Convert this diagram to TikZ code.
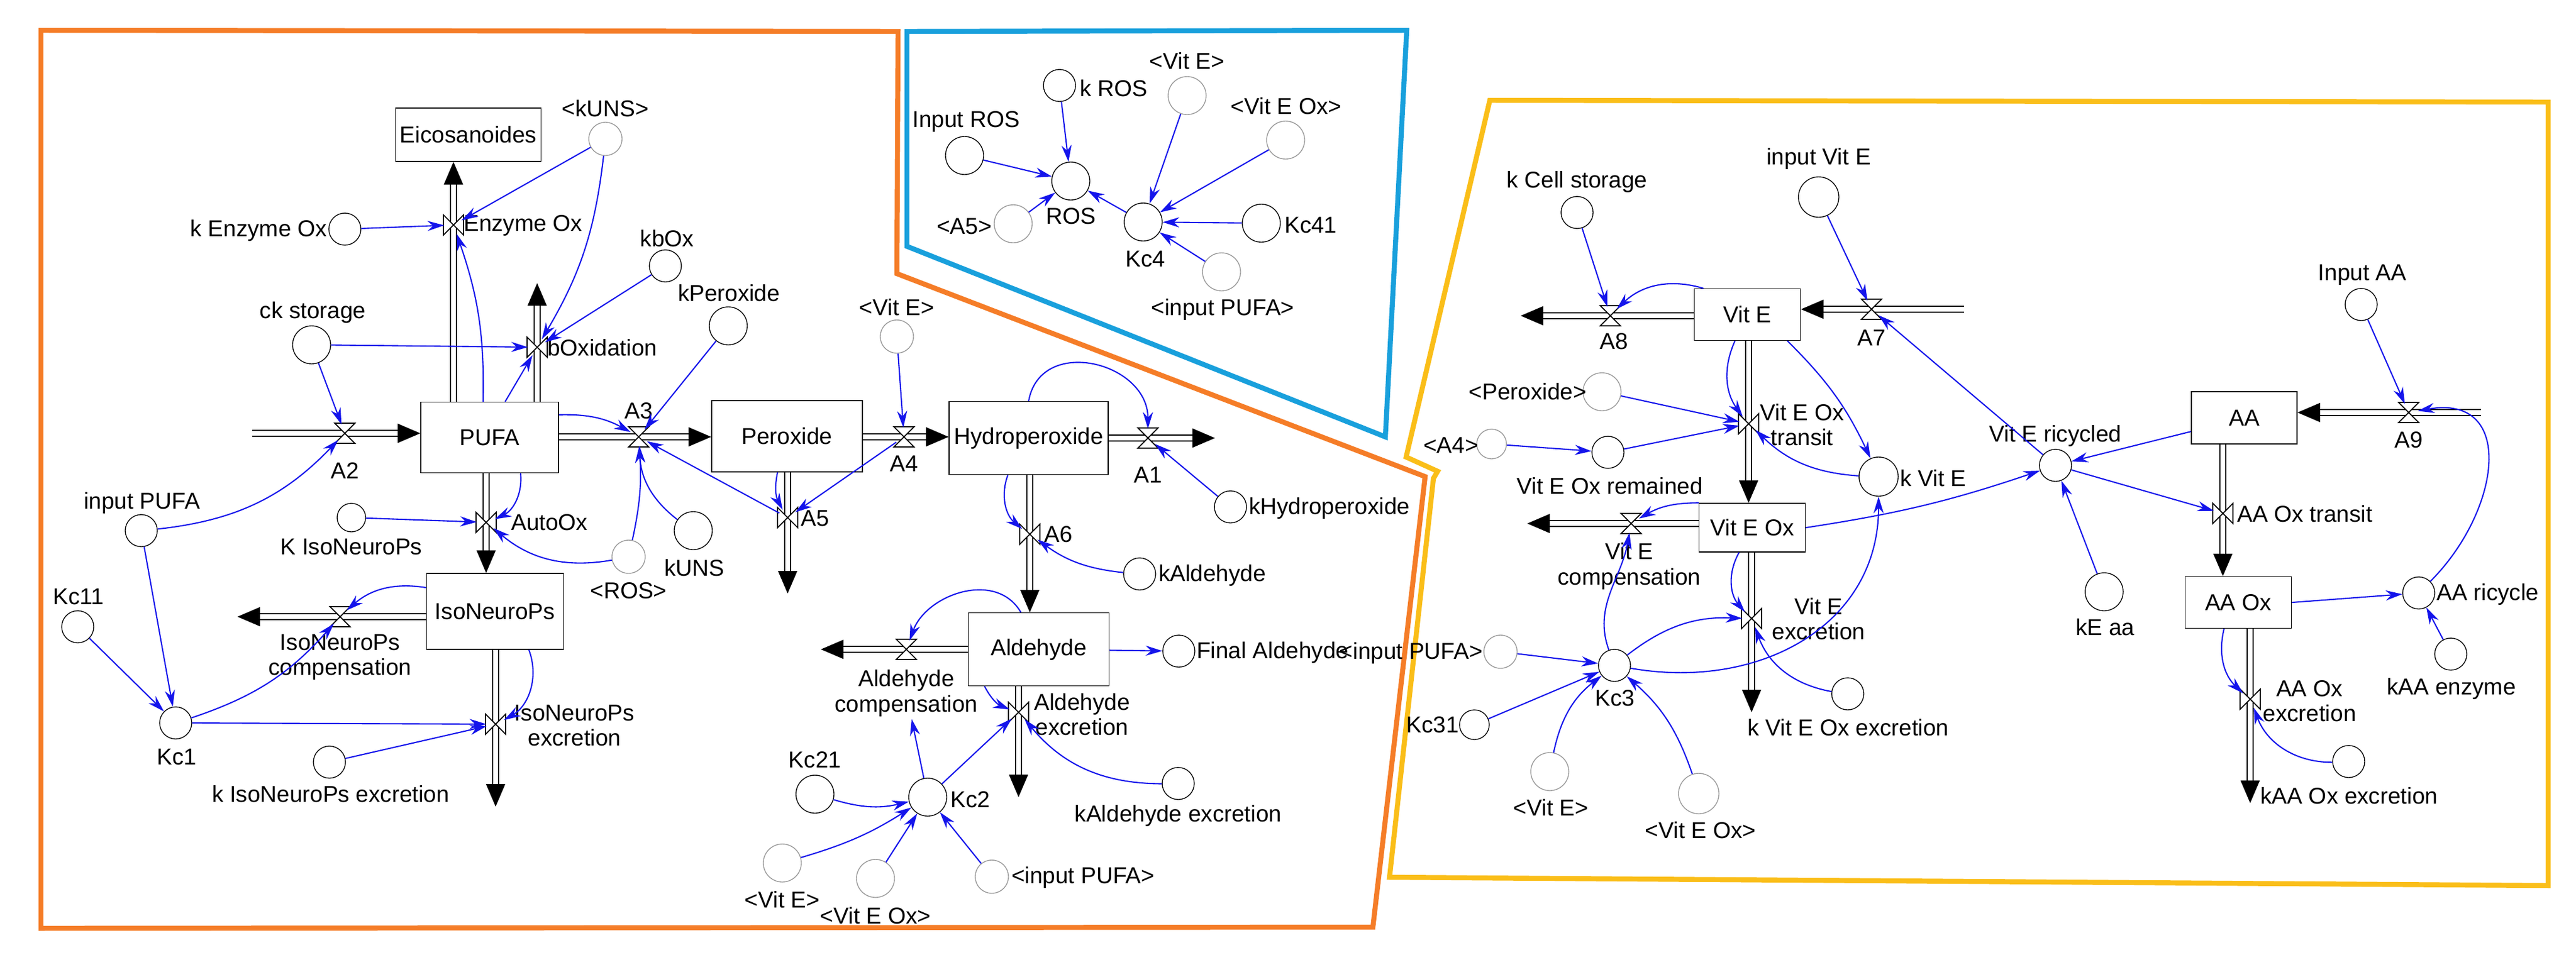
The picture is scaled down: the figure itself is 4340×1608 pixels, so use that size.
\documentclass[tikz,border=0pt]{standalone}
\usepackage{fontspec}
\setmainfont{Liberation Sans}
\usetikzlibrary{arrows.meta}
\definecolor{bord1}{RGB}{245,125,40}
\definecolor{bord2}{RGB}{25,160,220}
\definecolor{bord3}{RGB}{250,190,25}
\definecolor{conn}{RGB}{20,20,235}
\begin{document}
\begin{tikzpicture}[x=0.01cm,y=-0.01cm,
  every node/.style={font=\fontsize{11}{12}\selectfont},
  lab/.style={inner sep=1pt},
  aux/.style={circle,draw,minimum size=0.54cm,inner sep=0pt},
  auxl/.style={circle,draw,minimum size=0.64cm,inner sep=0pt},
  sh/.style={circle,draw=black!40,minimum size=0.56cm,inner sep=0pt},
  stock/.style={draw,rectangle,inner sep=0pt},
  valve/.style={circle,minimum size=0.3cm,inner sep=0pt},
  pipe/.style={double,double distance=2.2pt,line width=0.6pt,-{Triangle[length=0.38cm,width=0.32cm]}},
  cn/.style={conn,line width=0.6pt,-{Stealth[length=0.28cm,width=0.17cm]}},
  vh/.pic={\draw[fill=white,line width=0.5pt] (-17,-17)--(17,-17)--(-17,17)--(17,17)--cycle;},
  vv/.pic={\draw[fill=white,line width=0.5pt] (-17,-17)--(-17,17)--(17,-17)--(17,17)--cycle;},
  bord/.style={line width=2.4pt}]
\useasboundingbox (0,0) rectangle (4340,1608);
% borders
\draw[bord,bord1] (69,51) -- (1513,53) -- (1511,461) -- (2401,803) -- (2313,1562) -- (69,1564) -- cycle;
\draw[bord,bord2] (1528,53) -- (2370,51) -- (2334,736) -- (1528,415) -- cycle;
\draw[bord,bord3] (2510,169) -- (4293,172) -- (4293,1492) -- (2341,1478) -- (2415,806) -- (2422,794) -- (2369,770) -- cycle;

% ===== stocks =====
\node[stock,minimum width=2.45cm,minimum height=0.9cm] (Eic) at (789,227) {Eicosanoides};
\node[stock,minimum width=2.32cm,minimum height=1.19cm] (PUFA) at (825,737) {PUFA};
\node[stock,minimum width=2.54cm,minimum height=1.2cm] (Per) at (1326,735) {Peroxide};
\node[stock,minimum width=2.31cm,minimum height=1.28cm] (Iso) at (834,1030) {IsoNeuroPs};
\node[stock,minimum width=2.68cm,minimum height=1.23cm] (Hyd) at (1733,738) {Hydroperoxide};
\node[stock,minimum width=2.37cm,minimum height=1.23cm] (Ald) at (1750,1094) {Aldehyde};
\node[stock,minimum width=1.79cm,minimum height=0.87cm] (VitE) at (2944,530) {Vit E};
\node[stock,minimum width=1.79cm,minimum height=0.82cm] (VitEOx) at (2952,889) {Vit E Ox};
\node[stock,minimum width=1.78cm,minimum height=0.88cm] (AA) at (3781,704) {AA};
\node[stock,minimum width=1.79cm,minimum height=0.87cm] (AAOx) at (3771,1015) {AA Ox};

% ===== valves =====
\node[valve] (EnzOx) at (764,379) {};
\node[valve] (bOx) at (905,585) {};
\node[valve] (A2) at (581,730) {};
\node[valve] (A3) at (1076,736) {};
\node[valve] (AutoOx) at (819,880) {};
\node[valve] (IsoC) at (573,1039) {};
\node[valve] (IsoE) at (835,1220) {};
\node[valve] (A5) at (1327,872) {};
\node[valve] (A4) at (1523,736) {};
\node[valve] (A1) at (1934,738) {};
\node[valve] (A6) at (1735,900) {};
\node[valve] (AldC) at (1527,1094) {};
\node[valve] (AldE) at (1716,1200) {};
\node[valve] (A8) at (2713,532) {};
\node[valve] (A7) at (3153,521) {};
\node[valve] (VT) at (2946,714) {};
\node[valve] (VC) at (2748,882) {};
\node[valve] (VX) at (2951,1042) {};
\node[valve] (A9) at (4058,695) {};
\node[valve] (AT) at (3745,865) {};
\node[valve] (AX) at (3791,1178) {};

\coordinate (s1) at (425,730);
\coordinate (t1) at (905,477);
\coordinate (t2) at (400,1039);
\coordinate (t3) at (835,1359);
\coordinate (t4) at (1327,1000);
\coordinate (t5) at (2047,738);
\coordinate (t6) at (1383,1094);
\coordinate (t7) at (1716,1343);
\coordinate (t8) at (2562,532);
\coordinate (s2) at (3309,521);
\coordinate (t9) at (2573,882);
\coordinate (t10) at (2951,1200);
\coordinate (s3) at (4180,695);
\coordinate (t11) at (3791,1353);

% ===== pipes =====
\draw[pipe] (s1) -- (PUFA.west |- s1);
\draw[pipe] (PUFA.north -| EnzOx) -- (Eic.south -| EnzOx);
\draw[pipe] (PUFA.north -| bOx) -- (t1);
\draw[pipe] (PUFA.east |- A3) -- (Per.west |- A3);
\draw[pipe] (PUFA.south -| AutoOx) -- (Iso.north -| AutoOx);
\draw[pipe] (Iso.west |- IsoC) -- (t2);
\draw[pipe] (Iso.south -| IsoE) -- (t3);
\draw[pipe] (Per.south -| A5) -- (t4);
\draw[pipe] (Per.east |- A4) -- (Hyd.west |- A4);
\draw[pipe] (Hyd.east |- A1) -- (t5);
\draw[pipe] (Hyd.south -| A6) -- (Ald.north -| A6);
\draw[pipe] (Ald.west |- AldC) -- (t6);
\draw[pipe] (Ald.south -| AldE) -- (t7);
\draw[pipe] (VitE.west |- A8) -- (t8);
\draw[pipe] (s2) -- (VitE.east |- s2);
\draw[pipe] (VitE.south -| VT) -- (VitEOx.north -| VT);
\draw[pipe] (VitEOx.west |- VC) -- (t9);
\draw[pipe] (VitEOx.south -| VX) -- (t10);
\draw[pipe] (s3) -- (AA.east |- s3);
\draw[pipe] (AA.south -| AT) -- (AAOx.north -| AT);
\draw[pipe] (AAOx.south -| AX) -- (t11);

\pic at (EnzOx) {vv}; \pic at (bOx) {vv}; \pic at (A2) {vh}; \pic at (A3) {vh};
\pic at (AutoOx) {vv}; \pic at (IsoC) {vh}; \pic at (IsoE) {vv}; \pic at (A5) {vv};
\pic at (A4) {vh}; \pic at (A1) {vh}; \pic at (A6) {vv}; \pic at (AldC) {vh};
\pic at (AldE) {vv}; \pic at (A8) {vh}; \pic at (A7) {vh}; \pic at (VT) {vv};
\pic at (VC) {vh}; \pic at (VX) {vv}; \pic at (A9) {vh}; \pic at (AT) {vv}; \pic at (AX) {vv};

% ===== auxiliaries =====
\node[sh] (kUNSs) at (1020,234) {};
\node[aux] (kEnz) at (581,386) {};
\node[aux] (kbOx) at (1121,448) {};
\node[auxl] (kPer) at (1227,549) {};
\node[auxl] (ckst) at (525,581) {};
\node[aux] (inPUFA) at (238,894) {};
\node[aux,minimum size=0.48cm] (kIso) at (592,872) {};
\node[sh] (ROSs) at (1059,938) {};
\node[auxl] (kUNS) at (1168,894) {};
\node[aux] (Kc11) at (131,1056) {};
\node[aux] (Kc1) at (296,1218) {};
\node[aux] (kIsoE) at (555,1284) {};
\node[aux] (kROS) at (1785,144) {};
\node[sh,minimum size=0.64cm] (VitEs1) at (2000,161) {};
\node[auxl] (inROS) at (1625,262) {};
\node[sh,minimum size=0.64cm] (VitEOxs1) at (2166,236) {};
\node[auxl] (ROS) at (1804,305) {};
\node[sh,minimum size=0.64cm] (A5s) at (1707,377) {};
\node[auxl] (Kc4) at (1926,374) {};
\node[auxl] (Kc41) at (2125,376) {};
\node[sh,minimum size=0.64cm] (inPUFAs1) at (2058,458) {};
\node[sh] (VitEs2) at (1511,567) {};
\node[aux] (kHyd) at (2073,854) {};
\node[aux] (kAld) at (1920,967) {};
\node[aux] (FinAld) at (1986,1097) {};
\node[aux] (kAldE) at (1985,1320) {};
\node[auxl] (Kc21) at (1373,1338) {};
\node[auxl] (Kc2) at (1563,1343) {};
\node[sh,minimum size=0.64cm] (VitEs3) at (1318,1454) {};
\node[sh,minimum size=0.64cm] (VitEOxs3) at (1475,1480) {};
\node[sh] (inPUFAs3) at (1671,1477) {};
\node[aux] (kCell) at (2657,358) {};
\node[auxl,minimum size=0.68cm] (inVitE) at (3064,332) {};
\node[sh,minimum size=0.64cm] (Pers) at (2699,660) {};
\node[sh,minimum size=0.5cm] (A4s) at (2513,748) {};
\node[aux] (VEOR) at (2709,762) {};
\node[auxl,minimum size=0.66cm] (kVitE) at (3165,803) {};
\node[aux] (kVEOE) at (3113,1169) {};
\node[sh] (inPUFAs2) at (2528,1098) {};
\node[aux] (Kc3) at (2720,1121) {};
\node[aux,minimum size=0.5cm] (Kc31) at (2484,1221) {};
\node[sh,minimum size=0.64cm] (VitEs4) at (2611,1300) {};
\node[sh,minimum size=0.68cm] (VitEOxs4) at (2862,1337) {};
\node[aux] (VER) at (3463,784) {};
\node[aux] (inAA) at (3978,513) {};
\node[auxl] (kEaa) at (3545,997) {};
\node[aux] (AAr) at (4075,999) {};
\node[aux] (kAAe) at (4129,1102) {};
\node[aux] (kAAOE) at (3957,1283) {};

% ===== labels =====
\node[lab] (L1) at (1020,183) {<kUNS>};
\node[lab,anchor=east] (L2) at (555,388) {k Enzyme Ox};
\node[lab,anchor=west] (L3) at (777,380) {Enzyme Ox};
\node[lab] (L4) at (1124,402) {kbOx};
\node[lab,anchor=west] (L5) at (918,586) {bOxidation};
\node[lab] (L6) at (1228,494) {kPeroxide};
\node[lab] (L7) at (527,526) {ck storage};
\node[lab] (L8) at (581,793) {A2};
\node[lab] (L9) at (1076,692) {A3};
\node[lab] (L10) at (239,847) {input PUFA};
\node[lab] (L11) at (592,921) {K IsoNeuroPs};
\node[lab,anchor=west] (L12) at (857,880) {AutoOx};
\node[lab] (L13) at (1059,995) {<ROS>};
\node[lab] (L14) at (1170,957) {kUNS};
\node[lab,align=center] (L15) at (573,1107) {IsoNeuroPs\\compensation};
\node[lab] (L16) at (132,1005) {Kc11};
\node[lab] (L17) at (298,1275) {Kc1};
\node[lab,align=center] (L18) at (968,1222) {IsoNeuroPs\\excretion};
\node[lab] (L19) at (557,1338) {k IsoNeuroPs excretion};
\node[lab,anchor=west] (L20) at (1345,873) {A5};
\node[lab,anchor=west] (L21) at (1815,149) {k ROS};
\node[lab] (L22) at (2000,103) {<Vit E>};
\node[lab] (L23) at (1628,205) {Input ROS};
\node[lab] (L24) at (2167,179) {<Vit E Ox>};
\node[lab] (L25) at (1804,364) {ROS};
\node[lab,anchor=east] (L26) at (1675,381) {<A5>};
\node[lab] (L27) at (1930,436) {Kc4};
\node[lab,anchor=west] (L28) at (2160,379) {Kc41};
\node[lab] (L29) at (2060,521) {<input PUFA>};
\node[lab] (L30) at (1511,518) {<Vit E>};
\node[lab] (L31) at (1523,781) {A4};
\node[lab] (L32) at (1934,800) {A1};
\node[lab,anchor=west] (L33) at (2100,856) {kHydroperoxide};
\node[lab,anchor=west] (L34) at (1755,900) {A6};
\node[lab,anchor=west] (L35) at (1948,969) {kAldehyde};
\node[lab,align=center] (L36) at (1527,1168) {Aldehyde\\compensation};
\node[lab,anchor=west] (L37) at (2012,1099) {Final Aldehyde};
\node[lab,align=center] (L38) at (1823,1204) {Aldehyde\\excretion};
\node[lab] (L39) at (1985,1374) {kAldehyde excretion};
\node[lab] (L40) at (1373,1280) {Kc21};
\node[lab,anchor=west] (L41) at (1597,1347) {Kc2};
\node[lab] (L42) at (1318,1516) {<Vit E>};
\node[lab] (L43) at (1475,1543) {<Vit E Ox>};
\node[lab,anchor=west] (L44) at (1700,1478) {<input PUFA>};
\node[lab] (L45) at (2657,306) {k Cell storage};
\node[lab] (L46) at (3064,267) {input Vit E};
\node[lab] (L47) at (2719,575) {A8};
\node[lab] (L48) at (3153,569) {A7};
\node[lab,anchor=east] (L49) at (2677,660) {<Peroxide>};
\node[lab,anchor=east] (L50) at (2495,750) {<A4>};
\node[lab] (L51) at (2712,819) {Vit E Ox remained};
\node[lab,align=center] (L52) at (3036,716) {Vit E Ox\\transit};
\node[lab,anchor=west] (L53) at (3197,806) {k Vit E};
\node[lab,align=center] (L54) at (2745,954) {Vit E\\compensation};
\node[lab,align=center] (L55) at (3064,1043) {Vit E\\excretion};
\node[lab] (L56) at (3114,1226) {k Vit E Ox excretion};
\node[lab,anchor=east] (L57) at (2502,1100) {<input PUFA>};
\node[lab] (L58) at (2721,1176) {Kc3};
\node[lab,anchor=east] (L59) at (2462,1221) {Kc31};
\node[lab] (L60) at (2613,1361) {<Vit E>};
\node[lab] (L61) at (2865,1399) {<Vit E Ox>};
\node[lab] (L62) at (3463,734) {Vit E ricycled};
\node[lab] (L63) at (4058,741) {A9};
\node[lab] (L64) at (3980,463) {Input AA};
\node[lab,anchor=west] (L65) at (3765,866) {AA Ox transit};
\node[lab] (L66) at (3547,1057) {kE aa};
\node[lab,anchor=west] (L67) at (4101,1001) {AA ricycle};
\node[lab] (L68) at (4130,1160) {kAA enzyme};
\node[lab,align=center] (L69) at (3891,1181) {AA Ox\\excretion};
\node[lab,anchor=west] (L70) at (3804,1341) {kAA Ox excretion};

% ===== connectors =====
\draw[cn] (kUNSs) -- (EnzOx);
\draw[cn] (kUNSs) to[bend left=12] (bOx);
\draw[cn] (kEnz) -- (EnzOx);
\draw[cn] ([xshift=-0.11cm]PUFA.north) to[bend right=10] (EnzOx);
\draw[cn] (kbOx) -- (bOx);
\draw[cn] (ckst) -- (bOx);
\draw[cn] ([xshift=0.26cm]PUFA.north) -- (bOx);
\draw[cn] (ckst) -- (A2);
\draw[cn] (inPUFA) to[bend right=20] (A2);
\draw[cn] ([yshift=-0.22cm]PUFA.north east) to[bend left=15] (A3);
\draw[cn] (kPer) -- (A3);
\draw[cn] (A4) -- (A5);
\draw[cn] (A5) -- (A3);
\draw[cn] ([xshift=-0.16cm]Per.south) to[bend right=20] (A5);
\draw[cn] (kUNS) to[bend left=25] (A3);
\draw[cn] (ROSs) to[bend right=8] (A3);
\draw[cn] (ROSs) to[bend left=25] (AutoOx);
\draw[cn] ([xshift=0.52cm]PUFA.south) to[bend left=35] (AutoOx);
\draw[cn] (kIso) -- (AutoOx);
\draw[cn] ([yshift=0.4cm]Iso.west) to[bend right=25] (IsoC);
\draw[cn] (Kc1) to[bend right=15] (IsoC);
\draw[cn] (Kc1) -- (IsoE);
\draw[cn] ([xshift=0.57cm]Iso.south) to[bend left=40] (IsoE);
\draw[cn] (kIsoE) -- (IsoE);
\draw[cn] (Kc11) -- (Kc1);
\draw[cn] (inPUFA) -- (Kc1);
\draw[cn] (VitEs2) -- (A4);
\draw[cn] (Hyd.north) to[out=80,in=90,looseness=1.4] (A1);
\draw[cn] ([xshift=-0.35cm]Hyd.south) to[bend right=35] (A6);
\draw[cn] (kHyd) -- (A1);
\draw[cn] (kAld) to[bend left=15] (A6);
\draw[cn] ([xshift=-0.3cm]Ald.north) to[out=120,in=70,looseness=1.1] (AldC);
\draw[cn] (Kc2) -- (L36);
\draw[cn] (Kc2) -- (AldE);
\draw[cn] ([xshift=0.28cm]Ald.south west) to[bend right=20] (AldE);
\draw[cn] (kAldE) to[bend left=25] (AldE);
\draw[cn] (Ald) -- (FinAld);
\draw[cn] (Kc21) to[bend right=15] (Kc2);
\draw[cn] (VitEs3) to[bend right=8] (Kc2);
\draw[cn] (VitEOxs3) -- (Kc2);
\draw[cn] (inPUFAs3) -- (Kc2);
\draw[cn] (kROS) -- (ROS);
\draw[cn] (inROS) -- (ROS);
\draw[cn] (A5s) -- (ROS);
\draw[cn] (Kc4) -- (ROS);
\draw[cn] (VitEs1) -- (Kc4);
\draw[cn] (VitEOxs1) -- (Kc4);
\draw[cn] (Kc41) -- (Kc4);
\draw[cn] (inPUFAs1) -- (Kc4);
\draw[cn] (kCell) -- (A8);
\draw[cn] ([xshift=0.16cm]VitE.north west) to[bend right=30] (A8);
\draw[cn] (inVitE) -- (A7);
\draw[cn] (VER) -- (A7);
\draw[cn] ([xshift=-0.21cm]VitE.south) to[bend right=30] (VT);
\draw[cn] (Pers) -- (VT);
\draw[cn] (VEOR) -- (VT);
\draw[cn] (A4s) -- (VEOR);
\draw[cn] (kVitE) to[bend left=20] (VT);
\draw[cn] ([xshift=-0.23cm]VitE.south east) to[bend left=10] (kVitE);
\draw[cn] (VitEOx.north west) to[bend right=15] (VC);
\draw[cn] (Kc3) to[out=110,in=-100] (VC);
\draw[cn] ([xshift=-0.22cm]VitEOx.south) to[bend right=35] (VX);
\draw[cn] (Kc3) to[bend left=20] (VX);
\draw[cn] (kVEOE) to[bend left=30] (VX);
\draw[cn] (Kc3) to[out=-10,in=-90,looseness=1.1] (kVitE);
\draw[cn] (inPUFAs2) -- (Kc3);
\draw[cn] (Kc31) -- (Kc3);
\draw[cn] (VitEs4) to[bend left=20] (Kc3);
\draw[cn] (VitEOxs4) to[bend right=15] (Kc3);
\draw[cn] (VitEOx.east) to[bend right=5] (VER);
\draw[cn] ([yshift=-0.23cm]AA.west) -- (VER);
\draw[cn] (kEaa) -- (VER);
\draw[cn] (VER) -- (AT);
\draw[cn] (inAA) -- (A9);
\draw[cn] (AAr) to[out=45,in=10,looseness=1.5] (A9);
\draw[cn] (AAOx.east) -- (AAr);
\draw[cn] (kAAe) -- (AAr);
\draw[cn] ([xshift=-0.24cm]AAOx.south) to[bend right=30] (AX);
\draw[cn] (kAAOE) to[bend left=35] (AX);
\end{tikzpicture}
\end{document}
